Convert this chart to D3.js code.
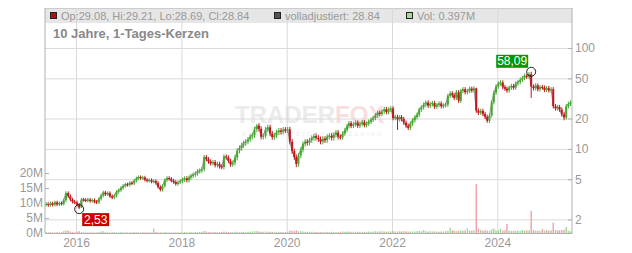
<!DOCTYPE html>
<html>
<head>
<meta charset="utf-8">
<script src="https://cdn.jsdelivr.net/npm/d3@7"></script>
<style>
body { margin: 0; background: #fff; }
text { font-family: "Liberation Sans", Arial, sans-serif; }
</style>
</head>
<body>
<div id="chart"></div>
<script>
var chartWidth = 632;
var chartHeight = 253;
var plot = {left: 45, right: 572, top: 8, bottom: 233};

// half-month candles, first one starts 2015-06-01
var firstOpen = 2.80;
var closes = [
  // 2015 Jun-Dec
  2.85, 2.78, 2.88, 2.80, 2.95, 2.82, 2.90, 2.86, 3.10, 3.65, 3.40, 3.15, 3.00, 2.95,
  // 2016
  2.80, 2.62, 3.15, 3.12, 3.08, 3.14, 3.05, 3.10, 3.00, 2.96, 3.20, 3.45,
  3.70, 3.55, 3.65, 3.40, 3.30, 3.45, 3.75, 3.90, 4.10, 4.30, 4.45, 4.40,
  // 2017
  4.60, 4.55, 4.85, 5.10, 5.25, 5.15, 5.20, 4.95, 4.85, 4.90, 4.75, 4.80,
  4.60, 4.20, 3.95, 4.30, 4.90, 5.15, 5.05, 4.85, 4.70, 4.50, 4.65, 4.80,
  // 2018
  4.95, 5.10, 4.90, 5.20, 5.40, 5.55, 5.70, 6.00, 6.10, 6.30, 8.30, 7.90,
  7.50, 7.20, 7.40, 6.90, 7.10, 6.70, 6.60, 8.40, 8.20, 7.60, 7.00, 7.30,
  // 2019
  8.20, 9.60, 10.20, 10.90, 11.40, 11.80, 12.40, 13.20, 13.70, 15.60, 17.00, 15.80,
  13.20, 13.50, 15.60, 16.40, 14.20, 13.10, 13.60, 14.60, 15.20, 14.80, 15.50, 15.30,
  // 2020
  15.60, 11.80, 9.50, 8.30, 7.10, 8.60, 9.80, 11.20, 11.80, 11.50, 12.20, 12.80,
  13.40, 12.90, 12.50, 11.80, 12.60, 12.20, 13.20, 13.50, 12.90, 13.80, 14.50, 13.20,
  // 2021
  13.00, 14.20, 15.40, 16.80, 18.00, 16.90, 17.50, 18.20, 17.00, 17.60, 18.40, 17.20,
  17.80, 18.60, 19.50, 20.20, 21.50, 22.80, 22.20, 23.50, 24.80, 23.20, 24.50, 25.20,
  // 2022
  20.20, 20.80, 19.60, 20.60, 19.80, 18.20, 17.00, 16.20, 17.80, 19.20, 20.60, 21.80,
  24.50, 25.80, 27.50, 28.80, 26.80, 27.80, 28.50, 26.20, 27.20, 28.20, 26.50, 27.00,
  // 2023
  27.50, 33.50, 35.50, 34.00, 32.00, 36.50, 30.00, 37.50, 39.00, 36.50, 37.50, 39.50,
  38.00, 39.80, 24.00, 22.80, 23.80, 22.20, 20.80, 19.00, 21.50, 29.00, 36.00, 41.50,
  // 2024
  44.50, 45.50, 41.00, 39.50, 38.00, 40.50, 42.00, 40.50, 44.50, 46.00, 48.50, 50.50,
  53.00, 52.00, 55.00, 41.50, 40.00, 42.50, 39.00, 41.00, 40.50, 38.50, 40.00, 38.00,
  // 2025 Jan-May
  39.00, 26.50, 25.20, 26.00, 24.50, 22.00, 20.50, 26.50, 28.00, 28.84
];

// volume in millions, same periods
var volumes = [
  0.3, 0.2, 0.3, 0.2, 0.2, 0.3, 0.2, 0.3, 0.6, 0.9, 0.8, 0.5, 0.3, 0.2,
  0.4, 0.6, 0.3, 0.2, 0.2, 0.2, 0.2, 0.2, 0.2, 0.2, 0.3, 0.5, 0.6, 0.3, 0.2, 0.2, 0.2, 0.3, 0.2, 0.2, 0.3, 0.2, 0.2, 0.2,
  0.2, 0.2, 0.3, 0.2, 0.2, 0.2, 0.3, 0.2, 0.2, 0.2, 0.2, 1.5, 0.3, 0.2, 0.2, 0.2, 0.3, 0.2, 0.2, 0.2, 0.2, 0.2, 0.2, 0.2,
  0.2, 0.3, 0.2, 0.2, 0.3, 0.2, 0.3, 0.3, 0.3, 0.4, 0.7, 0.5, 0.3, 0.3, 0.3, 0.3, 0.3, 0.3, 0.3, 0.5, 0.4, 0.3, 0.3, 0.3,
  0.4, 0.4, 0.3, 0.4, 0.4, 0.3, 0.4, 0.4, 0.5, 0.6, 0.6, 0.5, 0.4, 0.4, 0.5, 0.4, 0.4, 0.4, 0.3, 0.4, 0.4, 0.3, 0.3, 0.3,
  0.4, 0.8, 0.7, 0.6, 0.9, 0.6, 0.6, 0.5, 0.4, 0.4, 0.4, 0.4, 0.4, 0.3, 0.3, 0.3, 0.3, 0.3, 0.4, 0.3, 0.4, 0.3, 0.3, 0.3,
  0.4, 0.5, 0.4, 0.5, 0.4, 0.4, 0.4, 0.4, 0.4, 0.4, 0.4, 0.4, 0.4, 0.5, 0.4, 0.5, 0.6, 0.5, 0.5, 0.6, 0.5, 0.4, 0.5, 0.5,
  0.6, 0.5, 0.5, 0.6, 0.5, 0.6, 0.5, 0.5, 0.5, 0.5, 0.5, 0.6, 0.7, 0.6, 1.0, 0.6, 0.5, 0.6, 0.5, 0.5, 0.5, 0.4, 0.5, 0.5,
  0.6, 0.7, 1.7, 0.9, 0.8, 0.7, 0.7, 0.8, 0.8, 0.9, 1.6, 0.8, 0.8, 0.9, 16.3, 1.5, 1.0, 0.8, 0.9, 0.8, 0.8, 1.2, 1.5, 0.9,
  0.9, 1.5, 0.8, 0.9, 3.0, 0.8, 0.7, 0.8, 0.7, 0.8, 0.7, 1.0, 0.8, 0.9, 0.9, 7.4, 1.0, 0.8, 0.8, 0.7, 1.3, 0.8, 1.0, 0.8,
  0.9, 3.4, 1.0, 0.9, 0.9, 1.0, 1.1, 2.0, 0.8, 0.6
];

// typical intra-period range beyond the body, % per calendar year 2015..2025
var rangeYears  = [2015, 2016, 2017, 2018, 2019, 2020, 2021, 2022, 2023, 2024, 2025];
var rangePct    = [4, 4, 4, 5, 6, 6, 5, 5, 5, 5, 5];

// periods with wicks different from the usual range
var wickDates = ["2015-10-16", "2016-01-16", "2016-02-01", "2019-06-01", "2020-03-01", "2022-02-01", "2023-08-01", "2023-10-16", "2024-08-16", "2025-04-01"];
var wickLows  = [null, 2.53, 2.60, null, 6.60, 15.4, null, 18.1, 32.0, 19.2];
var wickHighs = [3.80, null, null, 17.6, null, null, 40.5, null, 58.09, null];

var priceTicks = [2, 5, 10, 20, 50, 100];
var volumeTicks = [0, 5, 10, 15, 20];
var yearTicks = [2016, 2018, 2020, 2022, 2024];

var headerLabels = ["Op:29.08, Hi:29.21, Lo:28.69, Cl:28.84", "volladjustiert: 28.84", "Vol: 0.397M"];
var headerColors = ["#b01010", "#555555", "#a8d8a0"];
var headerX = [50, 274, 406];

var fmtDay = d3.timeFormat("%Y-%m-%d");
var candles = closes.map(function(c, i) {
  var date = new Date(2015, 5 + Math.floor(i / 2), i % 2 ? 16 : 1);
  var open = i ? closes[i - 1] : firstOpen;
  var r = rangePct[rangeYears.indexOf(date.getFullYear())] / 100;
  var high = Math.max(open, c) * (1 + r), low = Math.min(open, c) * (1 - r);
  var w = wickDates.indexOf(fmtDay(date));
  if (w >= 0) {
    if (wickHighs[w] != null) high = wickHighs[w];
    if (wickLows[w] != null) low = wickLows[w];
  }
  return {date: date, open: open, close: c, high: high, low: low, vol: volumes[i] * 1e6};
});

var svg = d3.select("#chart").append("svg")
    .attr("width", chartWidth)
    .attr("height", chartHeight)
    .style("background", "#fff");

var xScale = d3.scaleTime()
    .domain([new Date(2015, 4, 31), new Date(2025, 5, 2)])
    .range([plot.left, plot.right]);
var yScale = d3.scaleLog()
    .domain([1.467, 249])
    .range([plot.bottom, plot.top]);
var volScale = d3.scaleLinear()
    .domain([0, 75e6])
    .range([plot.bottom, plot.top]);
var cx = function(d) { return xScale(d3.timeDay.offset(d.date, 7)); };

// header bar
svg.append("rect")
    .attr("x", plot.left).attr("y", plot.top)
    .attr("width", plot.right - plot.left).attr("height", 15)
    .attr("fill", "#e6e6e6");
svg.append("line")
    .attr("x1", plot.left).attr("x2", plot.right)
    .attr("y1", plot.top + 0.5).attr("y2", plot.top + 0.5)
    .attr("stroke", "#cccccc");

// watermark
var wm = svg.append("text")
    .attr("x", 235).attr("y", 123)
    .style("font-size", "24px").style("font-weight", "bold");
wm.append("tspan").attr("fill", "#ebebeb").text("TRADER");
wm.append("tspan").attr("fill", "#f8dede").text("FOX");
svg.append("text")
    .attr("x", 242).attr("y", 136)
    .style("font-size", "6px").style("letter-spacing", "2px")
    .attr("fill", "#ececec")
    .text("REAL-TIME STOCK SCREENING");

// grid
var gridX = svg.append("g")
    .attr("transform", "translate(0," + plot.bottom + ")")
    .call(d3.axisBottom(xScale)
        .tickValues(yearTicks.map(function(y) { return new Date(y, 0, 1); }))
        .tickSize(-(plot.bottom - plot.top)).tickFormat(""));
var gridY = svg.append("g")
    .attr("transform", "translate(" + plot.right + ",0)")
    .call(d3.axisRight(yScale).tickValues(priceTicks)
        .tickSize(-(plot.right - plot.left)).tickFormat(""));
[gridX, gridY].forEach(function(g) {
  g.select(".domain").remove();
  g.selectAll(".tick line").attr("stroke", "#d9d9d9");
});

// volume
svg.append("g").selectAll("rect")
    .data(candles)
    .enter()
    .append("rect")
    .attr("x", function(d) { return cx(d) - 0.7; })
    .attr("y", function(d) { return volScale(d.vol); })
    .attr("width", 1.4)
    .attr("height", function(d) { return volScale(0) - volScale(d.vol); })
    .attr("fill", function(d) { return d.close >= d.open ? "#9fd896" : "#f0a0a8"; });

// adjusted close line
svg.append("path")
    .datum(candles)
    .attr("fill", "none")
    .attr("stroke", "#999999")
    .attr("stroke-width", 1)
    .attr("d", d3.line().x(cx).y(function(d) { return yScale(d.close); }));

// candles
var candleG = svg.append("g");
candleG.selectAll("line")
    .data(candles)
    .enter()
    .append("line")
    .attr("x1", cx).attr("x2", cx)
    .attr("y1", function(d) { return yScale(d.high); })
    .attr("y2", function(d) { return yScale(d.low); })
    .attr("stroke", function(d) { return d.close >= d.open ? "#46a832" : "#c4141c"; })
    .attr("stroke-width", 1);
candleG.selectAll("rect")
    .data(candles)
    .enter()
    .append("rect")
    .attr("x", function(d) { return cx(d) - 1; })
    .attr("y", function(d) { return yScale(Math.max(d.open, d.close)); })
    .attr("width", 2)
    .attr("height", function(d) {
      return Math.max(1, Math.abs(yScale(d.open) - yScale(d.close)));
    })
    .attr("fill", function(d) { return d.close >= d.open ? "#46a832" : "#c4141c"; });

// axes
var xAxis = svg.append("g")
    .attr("transform", "translate(0," + plot.bottom + ")")
    .call(d3.axisBottom(xScale)
        .tickValues(yearTicks.map(function(y) { return new Date(y, 0, 1); }))
        .tickSize(0).tickPadding(5)
        .tickFormat(d3.timeFormat("%Y")));
var yAxis = svg.append("g")
    .attr("transform", "translate(" + plot.right + ",0)")
    .call(d3.axisRight(yScale).tickValues(priceTicks)
        .tickSize(-4).tickPadding(3).tickFormat(d3.format("d")));
var volAxis = svg.append("g")
    .attr("transform", "translate(" + plot.left + ",0)")
    .call(d3.axisLeft(volScale).tickValues(volumeTicks.map(function(v) { return v * 1e6; }))
        .tickSize(-4).tickPadding(2)
        .tickFormat(function(d) { return d / 1e6 + "M"; }));
[xAxis, yAxis, volAxis].forEach(function(g) {
  g.attr("font-family", null).attr("font-size", null);
  g.select(".domain").attr("stroke", "#b0b0b0");
  g.selectAll(".tick line").attr("stroke", "#b0b0b0");
  g.selectAll(".tick text").attr("fill", "#999999").style("font-size", "12px");
});
yAxis.select(".domain").attr("d", "M0," + plot.top + "V" + plot.bottom);
volAxis.select(".domain").attr("d", "M0," + plot.top + "V" + plot.bottom);

// header legend
headerLabels.forEach(function(label, i) {
  svg.append("rect")
      .attr("x", headerX[i] + 0.5).attr("y", 12.5)
      .attr("width", 6).attr("height", 6)
      .attr("fill", headerColors[i]).attr("stroke", "#222").attr("stroke-width", 1);
  svg.append("text")
      .attr("x", headerX[i] + 11).attr("y", 20)
      .attr("fill", "#999999").style("font-size", "11px")
      .text(label);
});

svg.append("text")
    .attr("x", 53).attr("y", 38)
    .attr("fill", "#888888")
    .style("font-size", "13px").style("font-weight", "bold")
    .text("10 Jahre, 1-Tages-Kerzen");

// min / max markers
var minC = candles.reduce(function(a, b) { return b.low < a.low ? b : a; });
var maxC = candles.reduce(function(a, b) { return b.high > a.high ? b : a; });
var fmtDe = function(v) { return d3.format(".2f")(v).replace(".", ","); };

[[minC, minC.low, "#cc0000", 3, 4], [maxC, maxC.high, "#009900", -35, -17]].forEach(function(m) {
  var px = cx(m[0]), py = yScale(m[1]);
  svg.append("circle")
      .attr("cx", px).attr("cy", py).attr("r", 4.5)
      .attr("fill", "none").attr("stroke", "#222").attr("stroke-width", 1);
  svg.append("rect")
      .attr("x", px + m[3]).attr("y", py + m[4])
      .attr("width", m[3] > 0 ? 27 : 32).attr("height", 13)
      .attr("fill", m[2]);
  svg.append("text")
      .attr("x", px + m[3] + (m[3] > 0 ? 13.5 : 16)).attr("y", py + m[4] + 10.5)
      .attr("text-anchor", "middle")
      .attr("fill", "#fff").style("font-size", "12px")
      .text(fmtDe(m[1]));
});
</script>
</body>
</html>
